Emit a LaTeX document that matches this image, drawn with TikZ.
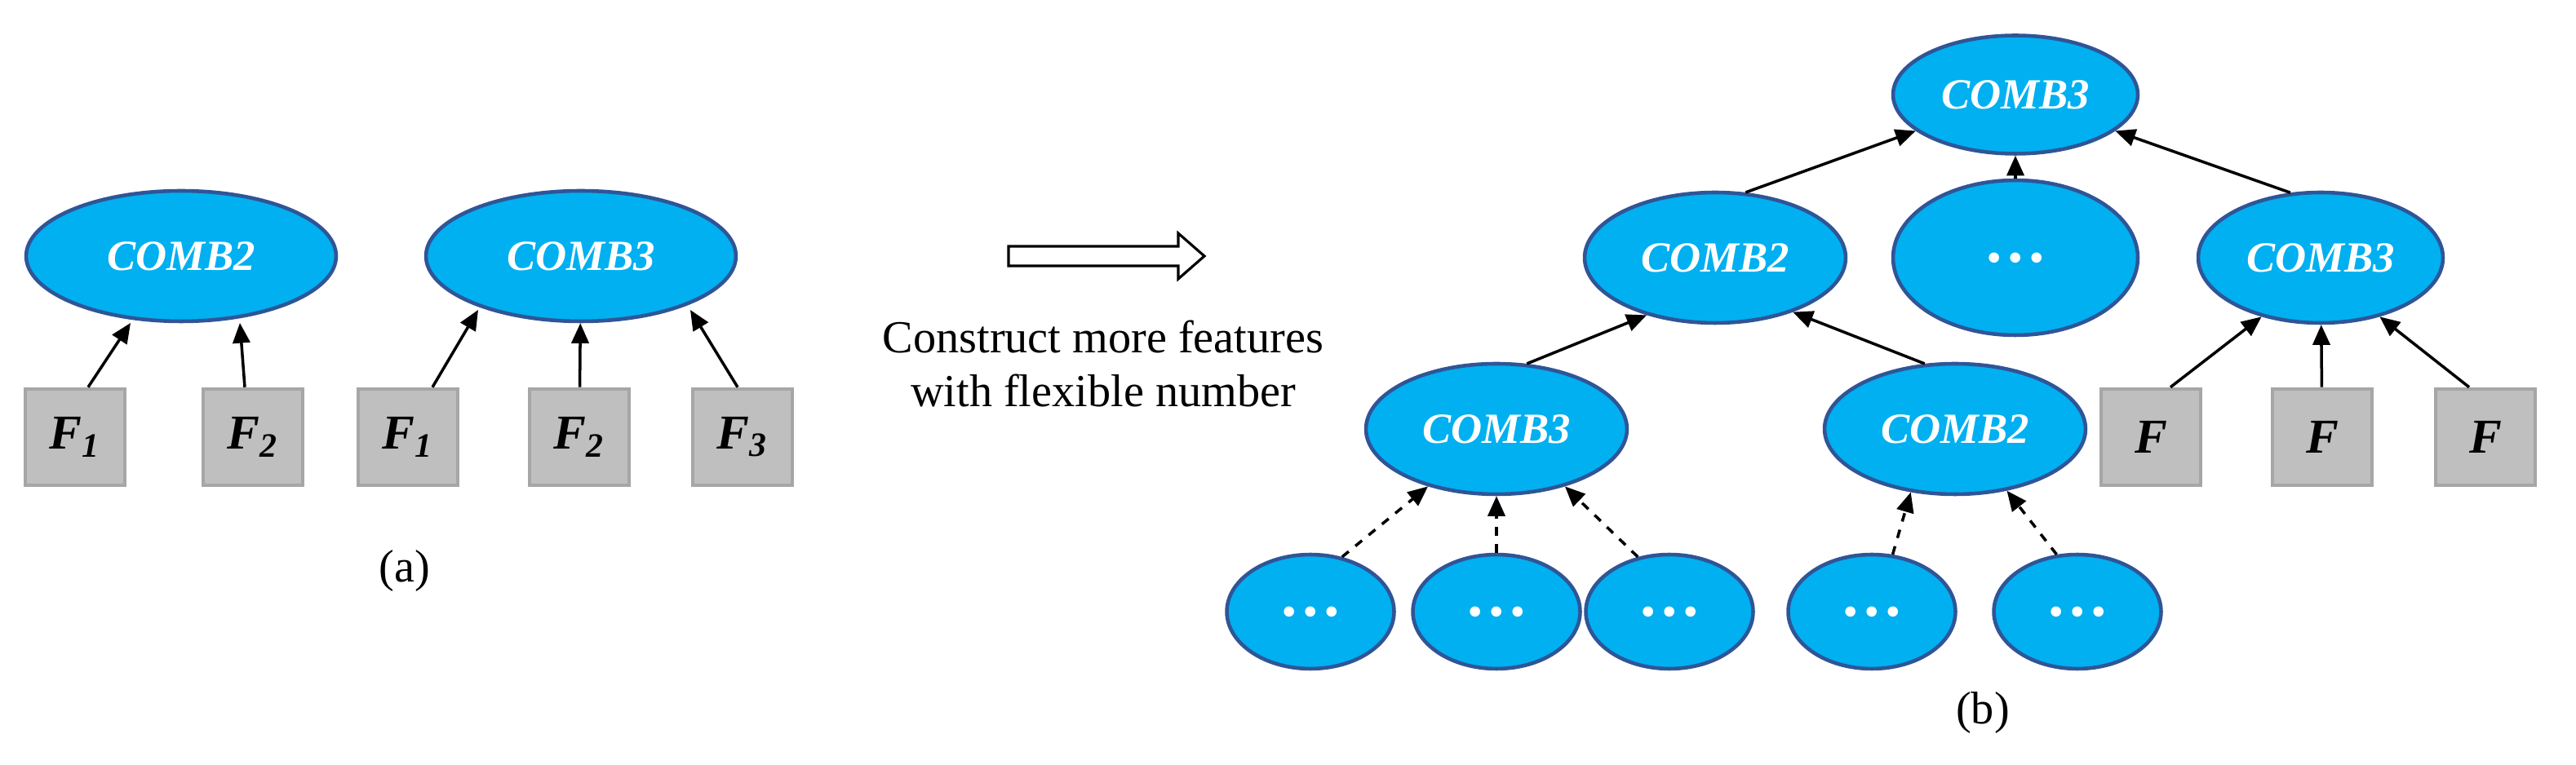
\documentclass[tikz,border=0pt]{standalone}
\usepackage{fontspec}
\setmainfont{Liberation Serif}
\usetikzlibrary{shapes.geometric,arrows.meta}
\definecolor{fillb}{HTML}{00B0F0}
\definecolor{edgeb}{HTML}{2F5597}
\definecolor{boxg}{HTML}{BFBFBF}
\definecolor{boxe}{HTML}{A6A6A6}
\begin{document}
\begin{tikzpicture}[x=0.02cm,y=-0.02cm,
 ell/.style={ellipse,draw=edgeb,fill=fillb,line width=1.3pt,inner sep=0pt,text=white,font=\fontsize{15}{15}\selectfont\bfseries\itshape},
 dots/.style={font=\fontsize{22}{22}\selectfont\bfseries},
 box/.style={rectangle,draw=boxe,fill=boxg,line width=1.3pt,minimum width=1.22cm,minimum height=1.18cm,inner sep=0pt,font=\fontsize{17}{17}\selectfont\bfseries\itshape},
 arr/.style={-{Triangle[length=7pt,width=6pt]},line width=1pt},
 darr/.style={arr,dashed}]
\useasboundingbox (0,0) rectangle (1578.5,469);
% (a)
\node[ell,minimum width=3.8cm,minimum height=1.6cm] (a2) at (111,157) {COMB2};
\node[ell,minimum width=3.8cm,minimum height=1.6cm] (a3) at (356,157) {COMB3};
\node[box] (f1) at (46,268) {F\textsubscript{1}};
\node[box] (f2) at (155,268) {F\textsubscript{2}};
\node[box] (g1) at (250,268) {F\textsubscript{1}};
\node[box] (g2) at (355,268) {F\textsubscript{2}};
\node[box] (g3) at (455,268) {F\textsubscript{3}};
\draw[arr] (f1.north) ++(8,0) coordinate (c1) -- (80,198);
\draw[arr] (f2.north) ++(-5,0) coordinate (c2) -- (147,198);
\draw[arr] (g1.north) ++(15,0) coordinate (c3) -- (293,190);
\draw[arr] (g2) -- (a3);
\draw[arr] (g3.north) ++(-3,0) coordinate (c4) -- (423,190);
\node[font=\fontsize{16}{16}\selectfont] (la) at (248,350) {(a)};
% middle
\draw[line width=0.9pt,fill=white] (618,151)--(722,151)--(722,143)--(738,157)--(722,171)--(722,163)--(618,163)--cycle;
\node[font=\fontsize{16}{19}\selectfont,align=center] (txt) at (676,223) {Construct more features\\with flexible number};
% (b)
\node[ell,minimum width=3cm,minimum height=1.45cm] (t) at (1235,58) {COMB3};
\node[ell,minimum width=3.2cm,minimum height=1.6cm] (m1) at (1051,158) {COMB2};
\node[ell,dots,minimum width=3cm,minimum height=1.9cm] (m2) at (1235,158) {\dots};
\node[ell,minimum width=3cm,minimum height=1.6cm] (m3) at (1422,158) {COMB3};
\node[ell,minimum width=3.2cm,minimum height=1.6cm] (l1) at (917,263) {COMB3};
\node[ell,minimum width=3.2cm,minimum height=1.6cm] (l2) at (1198,263) {COMB2};
\foreach \n/\x in {b1/803,b2/917,b3/1023,b4/1147,b5/1273}
  \node[ell,dots,minimum width=2.05cm,minimum height=1.4cm] (\n) at (\x,375) {\dots};
\node[box] (r1) at (1318,268) {F};
\node[box] (r2) at (1423,268) {F};
\node[box] (r3) at (1523,268) {F};
\draw[arr] (m1.65) -- (t.200);
\draw[darr] (m2) -- (t);
\draw[arr] (m3.115) -- (t.340);
\draw[arr] (l1.65) -- (m1.220);
\draw[arr] (l2.115) -- (m1.325);
\draw[darr] (b1.60) -- (l1.220);
\draw[darr] (b2) -- (l1);
\draw[darr] (b3.120) -- (l1.320);
\draw[darr] (b4.70) -- (l2.235);
\draw[darr] (b5.110) -- (l2.310);
\draw[arr] (r1.north) ++(12,0) coordinate (c5) -- (m3.225);
\draw[arr] (r2) -- (m3);
\draw[arr] (r3.north) ++(-10,0) coordinate (c6) -- (m3.315);
\node[font=\fontsize{16}{16}\selectfont] (lb) at (1215,437) {(b)};
\end{tikzpicture}
\end{document}
